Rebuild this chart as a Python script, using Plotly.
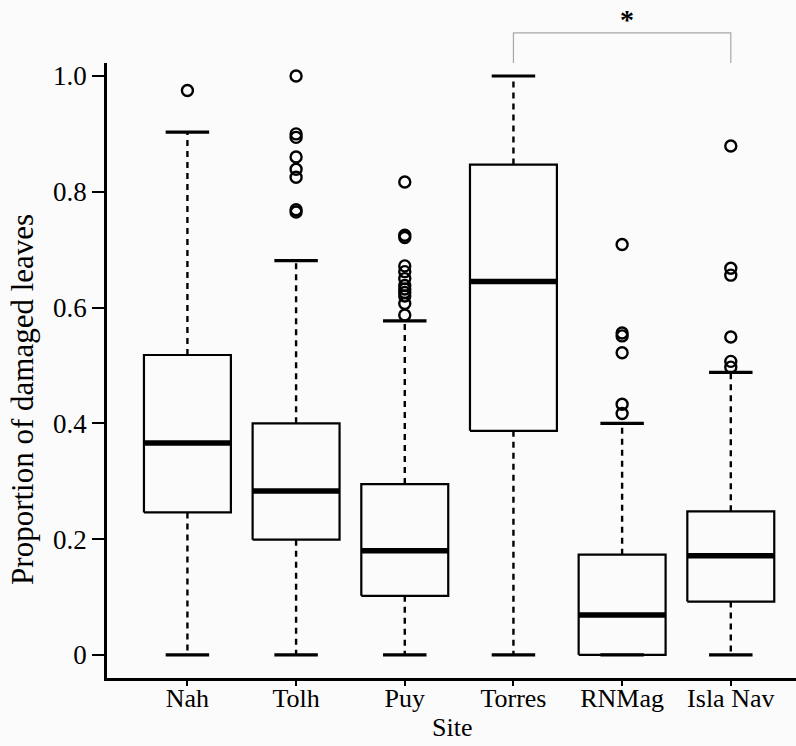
import plotly.graph_objects as go

# Summary statistics per site (proportion of damaged leaves)
sites = ["Nah", "Tolh", "Puy", "Torres", "RNMag", "Isla Nav"]
lower_whisker = [0.0, 0.0, 0.0, 0.0, 0.0, 0.0]
q1 = [0.246, 0.199, 0.102, 0.387, 0.0, 0.092]
median = [0.366, 0.283, 0.180, 0.645, 0.069, 0.171]
q3 = [0.518, 0.400, 0.295, 0.847, 0.173, 0.248]
upper_whisker = [0.903, 0.681, 0.577, 1.0, 0.400, 0.488]
outliers = [
    [0.975],
    [1.0, 0.900, 0.894, 0.860, 0.839, 0.825, 0.769, 0.765],
    [0.817, 0.725, 0.721, 0.672, 0.662, 0.650, 0.638, 0.632, 0.626, 0.620, 0.607, 0.587],
    [],
    [0.709, 0.556, 0.551, 0.522, 0.433, 0.417],
    [0.879, 0.668, 0.656, 0.549, 0.507, 0.497],
]
y_ticks = [0, 0.2, 0.4, 0.6, 0.8, 1.0]
y_tick_labels = ["0", "0.2", "0.4", "0.6", "0.8", "1.0"]

# Significance bracket between two sites
bracket_sites = ("Torres", "Isla Nav")
bracket_label = "*"

BOX_HALF = 0.4
CAP_HALF = 0.2
X_RANGE = [0.26, 6.60]
Y_RANGE = [-0.04, 1.0225]
FONT = "Liberation Serif"

fig = go.Figure()

for i, site in enumerate(sites):
    c = i + 1
    # box outline
    fig.add_trace(go.Scatter(
        x=[c - BOX_HALF, c + BOX_HALF, c + BOX_HALF, c - BOX_HALF, c - BOX_HALF],
        y=[q1[i], q1[i], q3[i], q3[i], q1[i]],
        mode="lines", line=dict(color="black", width=2.2), hoverinfo="skip"))
    # whiskers (dashed)
    for a, b in ((q3[i], upper_whisker[i]), (q1[i], lower_whisker[i])):
        if a != b:
            fig.add_trace(go.Scatter(
                x=[c, c], y=[a, b], mode="lines",
                line=dict(color="black", width=2.4, dash="6px,5px"),
                hoverinfo="skip"))
    # staples
    for v in (upper_whisker[i], lower_whisker[i]):
        fig.add_trace(go.Scatter(
            x=[c - CAP_HALF, c + CAP_HALF], y=[v, v], mode="lines",
            line=dict(color="black", width=3.2), hoverinfo="skip"))
    # median
    fig.add_trace(go.Scatter(
        x=[c - BOX_HALF, c + BOX_HALF], y=[median[i], median[i]], mode="lines",
        line=dict(color="black", width=5.5), hoverinfo="skip"))
    # outliers
    if outliers[i]:
        fig.add_trace(go.Scatter(
            x=[c] * len(outliers[i]), y=outliers[i], mode="markers",
            marker=dict(symbol="circle-open", size=11, color="black",
                        line=dict(width=2.4, color="black")),
            hoverinfo="skip"))


def x_to_paper(x):
    return (x - X_RANGE[0]) / (X_RANGE[1] - X_RANGE[0])


bx0 = x_to_paper(sites.index(bracket_sites[0]) + 1)
bx1 = x_to_paper(sites.index(bracket_sites[1]) + 1)
fig.add_shape(type="path",
              path=f"M {bx0} 1.0 L {bx0} 1.049 L {bx1} 1.049 L {bx1} 1.0",
              xref="paper", yref="paper",
              line=dict(color="#a8a8a8", width=1.2))
fig.add_annotation(x=(bx0 + bx1) / 2 + 0.007, y=1.07, xref="paper", yref="paper",
                   text=f"<b>{bracket_label}</b>", showarrow=False,
                   xanchor="center", yanchor="middle",
                   font=dict(family=FONT, size=28, color="black"))

fig.add_annotation(x=-0.122, y=0.4537, xref="paper", yref="paper",
                   text="Proportion of damaged leaves", textangle=-90,
                   xanchor="center", yanchor="middle",
                   showarrow=False, font=dict(family=FONT, size=31, color="black"))
fig.add_annotation(x=0.501, y=-0.081, xref="paper", yref="paper",
                   text="Site", showarrow=False, xanchor="center", yanchor="middle",
                   font=dict(family=FONT, size=26, color="black"))

fig.update_layout(
    width=796, height=746,
    margin=dict(l=107, r=0, t=63, b=68),
    paper_bgcolor="#fbfbfb", plot_bgcolor="#fbfbfb",
    showlegend=False,
    font=dict(family=FONT, size=25, color="black"),
)
fig.update_xaxes(
    range=X_RANGE, tickvals=list(range(1, len(sites) + 1)), ticktext=sites,
    showgrid=False, zeroline=False, showline=True, linecolor="black",
    linewidth=2.5, ticks="outside", ticklen=5, tickwidth=2, tickcolor="black",
    ticklabelstandoff=-10,
    tickfont=dict(family=FONT, size=26, color="black"))
fig.update_yaxes(
    range=Y_RANGE, tickvals=y_ticks, ticktext=y_tick_labels,
    showgrid=False, zeroline=False, showline=True, linecolor="black",
    linewidth=2.5, ticks="outside", ticklen=12, tickwidth=2, tickcolor="black",
    tickfont=dict(family=FONT, size=27, color="black"))

fig.write_html("out.html")
